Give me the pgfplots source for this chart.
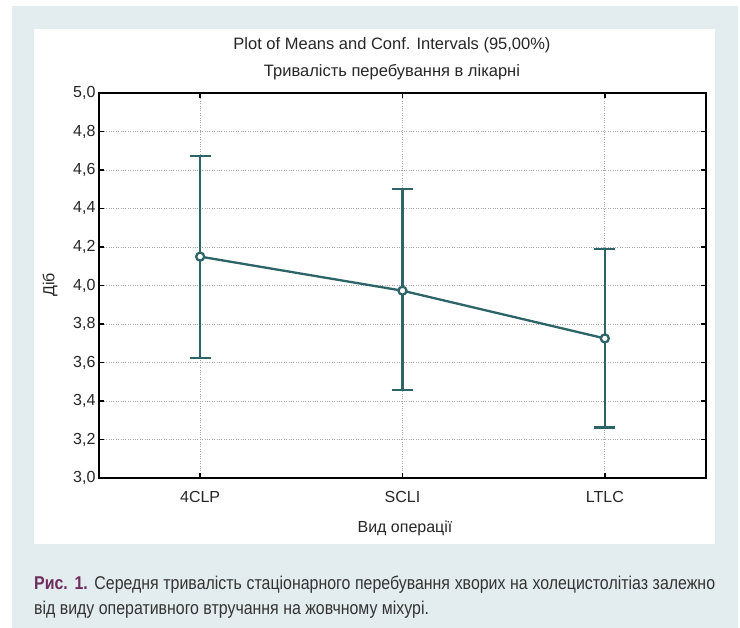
\documentclass[border=0pt]{standalone}
\usepackage{pgfplots}
\pgfplotsset{compat=1.18}
\usepackage{fontspec}
\setmainfont{Liberation Sans}
\newfontfamily\narrowfont[FakeStretch=0.86]{Liberation Sans}
\definecolor{band}{HTML}{E3ECEF}
\definecolor{tealline}{HTML}{2C6468}
\definecolor{rismag}{HTML}{6E2D5C}
\definecolor{captxt}{HTML}{333333}
\begin{document}
\begin{tikzpicture}[x=1pt,y=1pt]
\useasboundingbox (0,0) rectangle (740,628);
\fill[white] (0,0) rectangle (740,628);
\fill[band] (12,0) rectangle (738,622);
\fill[white] (34,84) rectangle (715,599);
\begin{axis}[
  at={(99pt,150pt)}, anchor=south west,
  scale only axis, width=607pt, height=385pt,
  xmin=-0.5, xmax=2.5, ymin=3, ymax=5,
  xtick={0,1,2}, xticklabels={4CLP,SCLI,LTLC},
  ytick={3,3.2,3.4,3.6,3.8,4,4.2,4.4,4.6,4.8,5},
  tick align=inside, major tick length=5pt,
  tick style={black, line width=1.6pt},
  axis line style={black, line width=2pt},
  grid=major, grid style={dotted, black!35, line width=0.7pt},
  ticklabel style={font=\fontsize{16}{19}\selectfont, text=black!85},
  /pgf/number format/assume math mode=true,
  yticklabel style={/pgf/number format/.cd, fixed, fixed zerofill, precision=1, use comma},
  xticklabel style={yshift=-10pt},
  clip=false,
]
\addplot[tealline, line width=2.3pt, mark=*,
  mark options={fill=white, draw=tealline, line width=2.3pt}, mark size=4pt,
  error bars/.cd, y dir=both, y explicit,
  error bar style={line width=2.3pt, tealline},
  error mark options={rotate=90, line width=2.3pt, mark size=10.5pt, tealline}]
  table[x=x, y=y, y error plus=ep, y error minus=em] {
x y ep em
0 4.150 0.522 0.525
1 3.973 0.527 0.517
2 3.725 0.465 0.462
};
\end{axis}
\node[font=\fontsize{16.5}{19}\selectfont, text=black!85] at (392,583) {Plot of Means and Conf. Intervals (95,00\%)};
\node[font=\fontsize{16.5}{19}\selectfont, text=black!85] at (392,556) {Тривалість перебування в лікарні};
\node[font=\fontsize{16}{19}\selectfont, text=black!85, rotate=90] at (50,343) {Діб};
\node[font=\fontsize{16}{19}\selectfont, text=black!85] at (405,100) {Вид операції};
\node[anchor=base west, inner sep=0, font=\narrowfont\fontsize{18.5}{22}\selectfont, text=captxt] at (34,38)
  {\makebox[681pt][s]{\textbf{\color{rismag}Рис. 1.} Середня тривалість стаціонарного перебування хворих на холецистолітіаз залежно}};
\node[anchor=base west, inner sep=0, font=\narrowfont\fontsize{18.5}{22}\selectfont, text=captxt] at (34,13)
  {від виду оперативного втручання на жовчному міхурі.};
\end{tikzpicture}
\end{document}
